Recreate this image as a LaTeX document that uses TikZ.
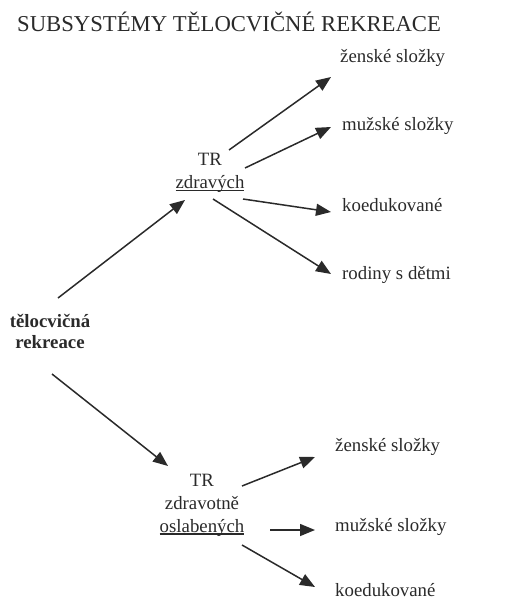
\documentclass[tikz,border=0pt]{standalone}
\usepackage{fontspec}
\setmainfont{Liberation Serif}
\usetikzlibrary{arrows.meta}
\definecolor{ink}{HTML}{2A2A2A}
\newcommand\myul[1]{\setbox0\hbox{#1}\rlap{\rule[-2.5pt]{\wd0}{1.2pt}}\box0}
\tikzset{
  lbl/.style={inner sep=0pt, text=ink, font=\fontsize{18.8}{23}\selectfont},
  ctr/.style={lbl, align=center},
  arr/.style={draw=ink, line width=1.5pt, -{Triangle[length=15pt,width=12pt]}},
}
\begin{document}
\begin{tikzpicture}[x=1pt,y=-1pt]
\useasboundingbox (0,0) rectangle (532,599);
\node[lbl, anchor=base west, font=\fontsize{22.7}{26}\selectfont] (title) at (17,32) {SUBSYSTÉMY TĚLOCVIČNÉ REKREACE};
% root
\node[ctr, font=\fontsize{18.8}{21}\selectfont\bfseries] (tr) at (50,331) {tělocvičná\\rekreace};
% upper branch
\node[ctr] (tz) at (210,173) {TR\\\myul{zdravých}};
\node[lbl, anchor=west] (zen1) at (340,58) {ženské složky};
\node[lbl, anchor=west] (muz1) at (342,126) {mužské složky};
\node[lbl, anchor=west] (koe1) at (342,205) {koedukované};
\node[lbl, anchor=west] (rod1) at (342,275) {rodiny s dětmi};
% lower branch
\node[ctr] (tzo) at (202,505) {TR\\zdravotně\\\myul{oslabených}};
\node[lbl, anchor=west] (zen2) at (335,447) {ženské složky};
\node[lbl, anchor=west] (muz2) at (335,527) {mužské složky};
\node[lbl, anchor=base west] (koe2) at (335,596) {koedukované};
% connectors (offsets relative to node centres)
\draw[arr] ([shift={(8,-33)}]tr.center) -- ([shift={(-25,27)}]tz.center);
\draw[arr] ([shift={(19,-23)}]tz.center) -- ([shift={(-9,19)}]zen1.west);
\draw[arr] ([shift={(35,-5)}]tz.center) -- ([shift={(-11,1)}]muz1.west);
\draw[arr] ([shift={(33,26)}]tz.center) -- ([shift={(-11,7)}]koe1.west);
\draw[arr] ([shift={(3,26)}]tz.center) -- ([shift={(-11,-1)}]rod1.west);
\draw[arr] ([shift={(2,43)}]tr.center) -- ([shift={(-34,-39)}]tzo.center);
\draw[arr] ([shift={(40,-19)}]tzo.center) -- ([shift={(-20,10)}]zen2.west);
\draw[arr] ([shift={(68,25)}]tzo.center) -- ([shift={(-20,3)}]muz2.west);
\draw[arr] ([shift={(40,40)}]tzo.center) -- ([shift={(-20,-9)}]koe2.base west);
\end{tikzpicture}
\end{document}
